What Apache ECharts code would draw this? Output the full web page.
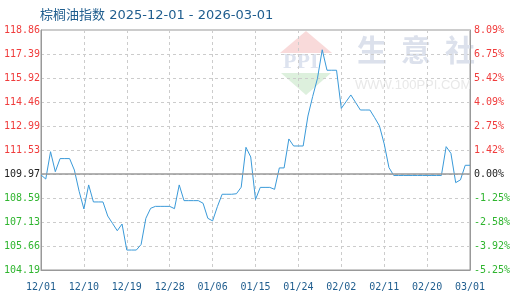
<!DOCTYPE html>
<html>
<head>
<meta charset="utf-8">
<script src="https://cdn.jsdelivr.net/npm/echarts@6/dist/echarts.min.js"></script>
<style>html,body{margin:0;padding:0;background:#fff}#c{width:520px;height:300px}</style>
</head>
<body>
<div id="c"></div>
<script>
var titleText = '棕榈油指数 2025-12-01 - 2026-03-01';
var startDate = '2025-12-01';
var dayCount = 91;
var values = [
  110.0, 109.75, 111.42, 110.2, 111.0, 111.0, 111.0, 110.3, 109.0, 107.92,
  109.39, 108.35, 108.35, 108.35, 107.49, 107.04, 106.59, 107.0, 105.41, 105.41,
  105.41, 105.75, 107.35, 107.96, 108.08, 108.08, 108.08, 108.08, 107.94, 109.39,
  108.43, 108.43, 108.43, 108.43, 108.27, 107.35, 107.19, 108.06, 108.82, 108.82,
  108.82, 108.85, 109.25, 111.69, 111.1, 108.5, 109.24, 109.24, 109.24, 109.12,
  110.43, 110.43, 112.2, 111.77, 111.77, 111.77, 113.6, 114.8, 115.9, 117.65,
  116.4, 116.4, 116.4, 114.07, 114.48, 114.89, 114.43, 113.97, 113.97, 113.97,
  113.5, 113.0, 111.9, 110.45, 109.97, 109.97, 109.97, 109.97, 109.97, 109.97,
  109.97, 109.97, 109.97, 109.97, 109.97, 111.73, 111.32, 109.53, 109.7, 110.59,
  110.59
];
var yMin = 104.19, yMax = 118.86, yStep = 1.467;
var leftLabels = ['104.19','105.66','107.13','108.59','109.97','111.53','112.99','114.46','115.92','117.39','118.86'];
var rightLabels = ['-5.25%','-3.92%','-2.58%','-1.25%','0.00%','1.42%','2.75%','4.09%','5.42%','6.75%','8.09%'];
var baseIndex = 4;
var watermarkChars = ['生', '意', '社'];

var dates = [];
(function(){
  var d0 = new Date(startDate + 'T00:00:00Z');
  for (var i = 0; i < dayCount; i++) {
    var d = new Date(d0.getTime() + i * 86400000);
    var m = String(d.getUTCMonth() + 1).padStart(2, '0');
    var dd = String(d.getUTCDate()).padStart(2, '0');
    dates.push(m + '/' + dd);
  }
})();

function tickIndex(v){ return Math.round((v - yMin) / yStep); }
function styleKey(i){ return i > baseIndex ? 'r' : (i < baseIndex ? 'g' : 'k'); }
var rich = {
  r: {color: '#f03c3c', fontFamily: 'DejaVu Sans Mono', fontSize: 10},
  g: {color: '#2fb52f', fontFamily: 'DejaVu Sans Mono', fontSize: 10},
  k: {color: '#222222', fontFamily: 'DejaVu Sans Mono', fontSize: 10}
};

var graphics = [
  {type: 'polygon', z: 0, shape: {points: [[306, 31], [280, 53], [332, 53]]}, style: {fill: '#f9dada'}, silent: true},
  {type: 'polygon', z: 0, shape: {points: [[281, 73], [331, 73], [306, 95]]}, style: {fill: '#ddf0dd'}, silent: true},
  {type: 'text', z: 0, left: 283, top: 51, style: {text: 'PPI', fontSize: 22, fontWeight: 'bold', fontFamily: 'Liberation Serif', fill: '#dde3ef', letterSpacing: 5}, silent: true},
  {type: 'text', z: 0, left: 355, top: 79, style: {text: 'WWW.100PPI.COM', fontSize: 13, fontFamily: 'Liberation Sans', fill: '#e8e8e8'}, silent: true}
];
watermarkChars.forEach(function(ch, i){
  graphics.push({type: 'text', z: 0, left: 357 + i * 44, top: 35, style: {text: ch, fontSize: 30, fontWeight: 'bold', fontFamily: 'Noto Sans CJK SC', fill: '#dce1ec'}, silent: true});
});

var chart = echarts.init(document.getElementById('c'), null, {renderer: 'canvas'});
chart.setOption({
  animation: false,
  backgroundColor: '#ffffff',
  title: {
    text: titleText, left: 35, top: 4,
    textStyle: {color: '#1f5d8e', fontSize: 13, fontWeight: 'normal', fontFamily: 'DejaVu Sans, Noto Sans CJK SC'}
  },
  grid: {left: 41, right: 50, top: 30, bottom: 30, show: true, borderColor: '#999', borderWidth: 1},
  graphic: graphics,
  xAxis: {
    type: 'category', data: dates, boundaryGap: false,
    axisLine: {lineStyle: {color: '#999', width: 1}},
    axisTick: {show: false},
    axisLabel: {interval: 8, margin: 12, color: '#1f5d8e', fontSize: 10, fontFamily: 'DejaVu Sans Mono'},
    splitLine: {show: true, interval: 8, lineStyle: {color: '#cccccc', type: [3, 3], width: 1}}
  },
  yAxis: [
    {
      type: 'value', min: yMin, max: yMax, interval: yStep, position: 'left',
      axisLine: {show: true, lineStyle: {color: '#999'}},
      axisTick: {show: false},
      axisLabel: {margin: 1, formatter: function(v){ var i = tickIndex(v); return '{' + styleKey(i) + '|' + leftLabels[i] + '}'; }, rich: rich},
      splitLine: {show: true, lineStyle: {color: '#cccccc', type: [3, 3], width: 1}}
    },
    {
      type: 'value', min: yMin, max: yMax, interval: yStep, position: 'right',
      axisLine: {show: true, lineStyle: {color: '#999'}},
      axisTick: {show: false},
      axisLabel: {margin: 4, formatter: function(v){ var i = tickIndex(v); return '{' + styleKey(i) + '|' + rightLabels[i] + '}'; }, rich: rich},
      splitLine: {show: false}
    }
  ],
  series: [{
    type: 'line', data: values, yAxisIndex: 0, showSymbol: false, symbol: 'none', z: 3,
    lineStyle: {color: '#3a9ad9', width: 1},
    markLine: {
      silent: true, symbol: 'none', label: {show: false}, animation: false,
      lineStyle: {color: '#999999', type: 'solid', width: 1.5},
      data: [{yAxis: yMin + baseIndex * yStep}]
    }
  }]
});
</script>
</body>
</html>
